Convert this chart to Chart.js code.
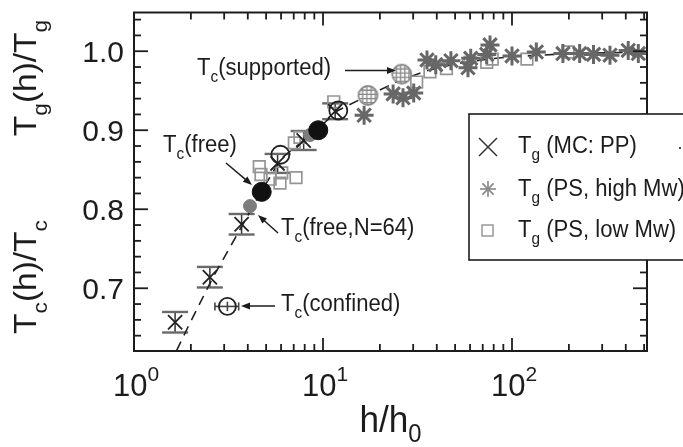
<!DOCTYPE html>
<html><head><meta charset="utf-8">
<script src="https://cdn.jsdelivr.net/npm/chart.js@4.4.1/dist/chart.umd.min.js"></script>
<style>html,body{margin:0;padding:0;background:#fff;overflow:hidden}canvas{display:block}</style>
</head><body>
<canvas id="c" width="683" height="447"></canvas>
<script>
// ---------- data ----------
// Tg (MC: PP) : crosses with vertical error bars
const mcX   = [1.65, 2.52, 3.71, 5.75, 7.9, 11.6];
const mcY   = [0.657, 0.714, 0.781, 0.858, 0.887, 0.924];
const mcErr = [0.013, 0.013, 0.013, 0.012, 0.012, 0.010];
// Tg (PS, high Mw) : asterisks
const hiX = [16.5, 23.5, 26.5, 30.2, 35.5, 39.5, 47.5, 58.5, 60.5, 73.5, 76.5, 100, 134.5, 186, 228, 270, 330, 412, 466];
const hiY = [0.919, 0.946, 0.941, 0.947, 0.989, 0.983, 0.988, 0.979, 0.991, 0.996, 1.008, 0.994, 0.999, 0.997, 0.997, 0.996, 0.995, 1.001, 0.997];
// Tg (PS, low Mw) : open squares
const loX = [4.6, 4.7, 5.25, 5.92, 6.05, 7.2, 7.05, 7.55, 11.4, 31.3, 36.8, 45, 60, 73.5, 78.6, 120, 198];
const loY = [0.854, 0.844, 0.838, 0.833, 0.846, 0.840, 0.884, 0.891, 0.936, 0.961, 0.974, 0.978, 0.986, 0.986, 0.990, 0.990, 0.999];
// Tc(free) : black filled circles
const freeX = [4.74, 9.44];
const freeY = [0.822, 0.900];
// Tc(free, N=64) : grey filled circles
const n64X = [4.11, 8.54];
const n64Y = [0.804, 0.894];
// open circles (Tc, MC)
const openX = [5.95, 12.05];
const openY = [0.869, 0.925];
// Tc(confined) with horizontal error bar
const confX = [3.12];
const confY = [0.677];
const confXlo = [2.68];
const confXhi = [3.58];
const confErr = [0.006];
// Tc(supported) : hatched circles
const supX = [17.3, 26.1];
const supY = [0.944, 0.971];
// dashed guide line
const lineX = [1.68, 1.93, 2.62, 3.77, 4.7, 6.0, 9.2, 12, 17, 25, 35, 50, 75, 100, 200, 518];
const lineY = [0.621, 0.651, 0.714, 0.781, 0.822, 0.864, 0.900, 0.925, 0.943, 0.962, 0.975, 0.984, 0.990, 0.993, 0.997, 0.999];
// ticks
const xMajorTicks = [1, 10, 100];
const xTickExp = ['0', '1', '2'];
const yMajorTicks = [0.7, 0.8, 0.9, 1.0];
const yTickLabels = ['0.7', '0.8', '0.9', '1.0'];
const xMin = 1, xMax = 518, yMin = 0.6206, yMax = 1.049;

const pts = (xs, ys) => xs.map((x, i) => ({x, y: ys[i]}));
const FONT = '"Liberation Sans", Arial, Helvetica, sans-serif';
const INK = '#1c1c1c';

// hatched circle marker
function hatchImg(r){
  const s = 2*r+4, c = document.createElement('canvas'); c.width = s; c.height = s;
  const g = c.getContext('2d'); const m = s/2;
  g.fillStyle = '#fff'; g.beginPath(); g.arc(m, m, r, 0, 2*Math.PI); g.fill();
  g.save(); g.clip();
  g.strokeStyle = '#8a8a8a'; g.lineWidth = 1.4;
  for (let k = -r; k <= r; k += 4.2){ g.beginPath(); g.moveTo(0, m+k); g.lineTo(s, m+k); g.stroke(); g.beginPath(); g.moveTo(m+k, 0); g.lineTo(m+k, s); g.stroke(); }
  g.restore();
  g.strokeStyle = '#8a8a8a'; g.lineWidth = 1.8; g.beginPath(); g.arc(m, m, r, 0, 2*Math.PI); g.stroke();
  return c;
}

function rich(ctx, parts, x, y, align, sx){
  let w = 0;
  parts.forEach(p => { ctx.font = p[1]+'px '+FONT; p.w = ctx.measureText(p[0]).width; w += p.w; });
  let cx = align === 'center' ? -w/2 : align === 'right' ? -w : 0;
  ctx.save(); ctx.translate(x, y); ctx.scale(sx || 1, 1);
  ctx.textAlign = 'left'; ctx.textBaseline = 'alphabetic'; ctx.fillStyle = INK;
  parts.forEach(p => { ctx.font = p[1]+'px '+FONT; ctx.fillText(p[0], cx, p[2] || 0); cx += p.w; });
  ctx.restore();
}
function arrow(ctx, x1, y1, x2, y2){
  ctx.save(); ctx.strokeStyle = INK; ctx.fillStyle = INK; ctx.lineWidth = 1.5;
  const a = Math.atan2(y2-y1, x2-x1), L = 9, W = 3.5;
  ctx.beginPath(); ctx.moveTo(x1, y1); ctx.lineTo(x2 - L*0.7*Math.cos(a), y2 - L*0.7*Math.sin(a)); ctx.stroke();
  ctx.beginPath(); ctx.moveTo(x2, y2);
  ctx.lineTo(x2 - L*Math.cos(a) + W*Math.sin(a), y2 - L*Math.sin(a) - W*Math.cos(a));
  ctx.lineTo(x2 - L*Math.cos(a) - W*Math.sin(a), y2 - L*Math.sin(a) + W*Math.cos(a));
  ctx.closePath(); ctx.fill(); ctx.restore();
}

const errPlugin = {
  id: 'errbars',
  beforeDatasetsDraw(chart){
    const {ctx, scales: {x, y}} = chart;
    ctx.save();
    mcX.forEach((v, i) => {
      const px = x.getPixelForValue(v), y1 = y.getPixelForValue(mcY[i]-mcErr[i]), y2 = y.getPixelForValue(mcY[i]+mcErr[i]);
      ctx.strokeStyle = '#333'; ctx.lineWidth = 1.5;
      ctx.beginPath(); ctx.moveTo(px, y1); ctx.lineTo(px, y2); ctx.stroke();
      ctx.strokeStyle = '#6a6a6a'; ctx.lineWidth = 2.4;
      [y1, y2].forEach(yy => { ctx.beginPath(); ctx.moveTo(px-13, yy); ctx.lineTo(px+13, yy); ctx.stroke(); });
    });
    confX.forEach((v, i) => {
      const py = y.getPixelForValue(confY[i]), xa = x.getPixelForValue(confXlo[i]), xb = x.getPixelForValue(confXhi[i]);
      const px = x.getPixelForValue(v);
      ctx.strokeStyle = '#444'; ctx.lineWidth = 1.6;
      ctx.beginPath(); ctx.moveTo(xa, py); ctx.lineTo(xb, py); ctx.stroke();
      [xa, xb].forEach(xx => { ctx.beginPath(); ctx.moveTo(xx, py-4); ctx.lineTo(xx, py+4); ctx.stroke(); });
      const ya = y.getPixelForValue(confY[i]-confErr[i]), yb = y.getPixelForValue(confY[i]+confErr[i]);
      ctx.beginPath(); ctx.moveTo(px, ya); ctx.lineTo(px, yb); ctx.stroke();
    });
    ctx.restore();
  }
};

const decorPlugin = {
  id: 'decor',
  afterDraw(chart){
    const {ctx, chartArea: a, scales: {x, y}} = chart;
    ctx.save();
    // frame
    ctx.strokeStyle = INK; ctx.lineWidth = 2;
    ctx.strokeRect(a.left, a.top, a.right - a.left, a.bottom - a.top);
    // x ticks (inward, top and bottom)
    ctx.lineWidth = 1.8;
    for (let d = 1; d <= 100; d *= 10){
      for (let m = 1; m <= 9; m++){
        const v = d*m; if (v > xMax) continue;
        const px = x.getPixelForValue(v), L = m === 1 ? 13 : 7;
        ctx.beginPath(); ctx.moveTo(px, a.bottom); ctx.lineTo(px, a.bottom - L); ctx.stroke();
        ctx.beginPath(); ctx.moveTo(px, a.top); ctx.lineTo(px, a.top + L); ctx.stroke();
      }
    }
    // y ticks (inward, left and right)
    for (let k = 32; k <= 52; k++){
      const v = k*0.02; if (v < yMin || v > yMax) continue;
      const py = y.getPixelForValue(v), L = (k % 5 === 0) ? 14 : 7;
      ctx.beginPath(); ctx.moveTo(a.left, py); ctx.lineTo(a.left + L, py); ctx.stroke();
      ctx.beginPath(); ctx.moveTo(a.right, py); ctx.lineTo(a.right - L, py); ctx.stroke();
    }
    // y tick labels
    yMajorTicks.forEach((v, i) => rich(ctx, [[yTickLabels[i], 30]], a.left - 10, y.getPixelForValue(v) + 11, 'right'));
    // x tick labels with superscripts
    xMajorTicks.forEach((v, i) => rich(ctx, [['10', 31], [xTickExp[i], 21, -15]], x.getPixelForValue(v) + 2, 396, 'center'));
    // x title
    rich(ctx, [['h/h', 37], ['0', 25, 10]], (a.left + a.right)/2, 432, 'center', 0.95);
    // y titles (rotated)
    ctx.save(); ctx.translate(36, 277); ctx.rotate(-Math.PI/2);
    rich(ctx, [['T', 31], ['c', 21, 11], ['(h)/T', 31], ['c', 21, 11]], 0, 0, 'center', 1.08);
    ctx.restore();
    ctx.save(); ctx.translate(36, 78); ctx.rotate(-Math.PI/2);
    rich(ctx, [['T', 31], ['g', 21, 11], ['(h)/T', 31], ['g', 21, 11]], 0, 0, 'center', 1.08);
    ctx.restore();
    // annotations
    rich(ctx, [['T', 23], ['c', 16, 7], ['(supported)', 23]], 197, 75, 'left', 0.96);
    arrow(ctx, 345, 70.5, 396, 70.5);
    rich(ctx, [['T', 23], ['c', 16, 7], ['(free)', 23]], 163, 152, 'left', 0.96);
    arrow(ctx, 226, 163, 252, 185);
    rich(ctx, [['T', 23], ['c', 16, 7], ['(free,N=64)', 23]], 281, 235, 'left', 0.96);
    arrow(ctx, 278, 233, 258, 215);
    rich(ctx, [['T', 23], ['c', 16, 7], ['(confined)', 23]], 281, 311, 'left', 0.96);
    arrow(ctx, 275, 306, 241, 306);
    // legend box (runs past the right edge)
    ctx.fillStyle = '#fff'; ctx.fillRect(469, 114, 260, 146);
    ctx.strokeStyle = INK; ctx.lineWidth = 1.6; ctx.strokeRect(469, 114, 260, 146);
    ctx.strokeStyle = '#333'; ctx.lineWidth = 1.5;
    ctx.beginPath(); ctx.moveTo(479, 138); ctx.lineTo(497, 156); ctx.moveTo(497, 138); ctx.lineTo(479, 156); ctx.stroke();
    ctx.strokeStyle = '#888'; ctx.lineWidth = 1.6;
    for (let k = 0; k < 4; k++){ const t = k*Math.PI/4; ctx.beginPath(); ctx.moveTo(488 - 8*Math.cos(t), 189 - 8*Math.sin(t)); ctx.lineTo(488 + 8*Math.cos(t), 189 + 8*Math.sin(t)); ctx.stroke(); }
    ctx.strokeStyle = '#999'; ctx.lineWidth = 1.5; ctx.strokeRect(482, 225, 11, 11);
    rich(ctx, [['T', 23], ['g', 16, 7], [' (MC: PP)', 23]], 518, 153, 'left', 0.96);
    rich(ctx, [['T', 23], ['g', 16, 7], [' (PS, high Mw)', 23]], 518, 196, 'left', 0.96);
    rich(ctx, [['T', 23], ['g', 16, 7], [' (PS, low Mw)', 23]], 518, 237, 'left', 0.96);
    ctx.fillStyle = '#444'; ctx.fillRect(679, 147, 2, 2);
    ctx.restore();
  }
};

const hatch = hatchImg(9.5);
new Chart(document.getElementById('c'), {
  type: 'scatter',
  data: { datasets: [
    { label: 'Tc(free)', data: pts(freeX, freeY), pointStyle: 'circle', pointRadius: 9.5, backgroundColor: '#111', borderColor: '#111', borderWidth: 1, order: 1 },
    { label: 'Tc(free,N=64)', data: pts(n64X, n64Y), pointStyle: 'circle', pointRadius: 6.5, backgroundColor: '#7d7d7d', borderColor: '#7d7d7d', borderWidth: 1, order: 2 },
    { label: 'Tg (MC: PP)', data: pts(mcX, mcY), pointStyle: 'crossRot', pointRadius: 10, borderColor: '#222', borderWidth: 1.8, order: 3 },
    { label: 'Tc open', data: pts(openX, openY), pointStyle: 'circle', pointRadius: 9, backgroundColor: 'rgba(0,0,0,0)', borderColor: '#222', borderWidth: 1.8, order: 4 },
    { label: 'Tc(confined)', data: pts(confX, confY), pointStyle: 'circle', pointRadius: 8.5, backgroundColor: 'rgba(0,0,0,0)', borderColor: '#222', borderWidth: 1.8, order: 5 },
    { label: 'Tc(supported)', data: pts(supX, supY), pointStyle: hatch, order: 6 },
    { label: 'Tg (PS, high Mw)', data: pts(hiX, hiY), pointStyle: 'star', pointRadius: 9.5, borderColor: '#676767', backgroundColor: '#676767', borderWidth: 3, order: 7 },
    { label: 'Tg (PS, low Mw)', data: pts(loX, loY), pointStyle: 'rect', pointRadius: 8.2, borderColor: '#959595', backgroundColor: 'rgba(0,0,0,0)', borderWidth: 1.7, order: 8 },
    { label: 'guide', data: pts(lineX, lineY), showLine: true, pointRadius: 0, borderColor: '#222', borderWidth: 1.6, borderDash: [10, 7], tension: 0, order: 9 }
  ]},
  options: {
    responsive: false, animation: false, devicePixelRatio: 1,
    layout: { padding: { left: 134, right: 36, top: 10, bottom: 96 } },
    plugins: { legend: { display: false }, tooltip: { enabled: false } },
    scales: {
      x: { type: 'logarithmic', min: xMin, max: xMax, display: false },
      y: { type: 'linear', min: yMin, max: yMax, display: false }
    }
  },
  plugins: [errPlugin, decorPlugin]
});
</script>
</body></html>
